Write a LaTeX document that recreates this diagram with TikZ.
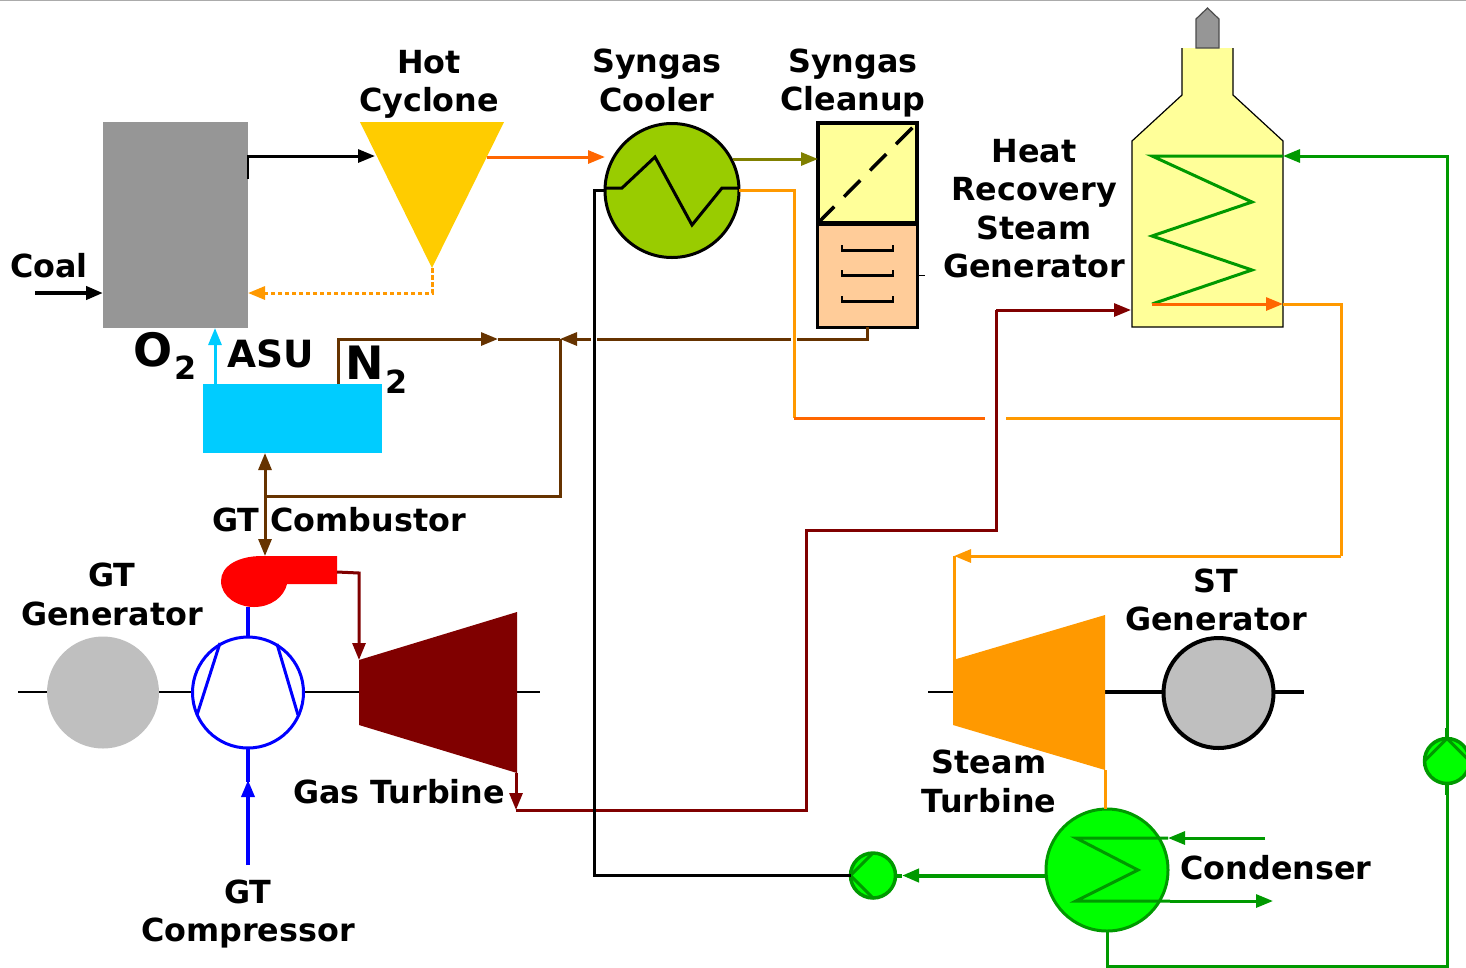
\documentclass[tikz,border=0pt]{standalone}
\usepackage{fontspec}
\setmainfont{DejaVu Sans}
\usetikzlibrary{arrows.meta}
\definecolor{slag}{HTML}{969696}
\definecolor{amber}{HTML}{FF9900}
\definecolor{hotorange}{HTML}{FF6600}
\definecolor{olivegas}{HTML}{808000}
\definecolor{nitrogen}{HTML}{663300}
\definecolor{airblue}{HTML}{00CCFF}
\definecolor{flue}{HTML}{800000}
\definecolor{water}{HTML}{009900}
\definecolor{palegold}{HTML}{FFFF99}
\definecolor{cyclonegold}{HTML}{FFCC00}
\definecolor{coolergreen}{HTML}{99CC00}
\definecolor{scrubpeach}{HTML}{FFCC99}
\tikzset{
	lbl/.style={font=\bfseries\fontsize{31.8}{38.3}\selectfont,align=center,inner sep=0pt},
	flow/.style={line width=3pt,-{Triangle[length=17pt,width=13pt]}},
	pipe/.style={line width=3pt},
	box/.style={inner sep=0pt,outer sep=0pt},
	pump/.style={circle,box,draw=water,fill=green,line width=3.5pt,minimum size=45pt}
}

\begin{document}
\begin{tikzpicture}[x=1pt,y=-1pt]
		%%%%% START %%%%%
		\clip (0,0) rectangle (1466,967);
		\draw[line width=1.5pt, color=black!33] (0,0.5) -- (1466,0.5);
		
		% equipment
		\node[box, fill=slag, minimum width=145pt, minimum height=206pt] (gasifier) at (175.5,225) {};
		\node[box, fill=airblue, minimum width=179pt, minimum height=69pt] (asu) at (292.5,418.5) {};
		\node[circle, box, draw=black, fill=coolergreen, line width=3pt, minimum size=134pt] (cooler) at (672,190.5) {};
		\node[box, draw=black, fill=palegold, line width=4.5pt, minimum width=99pt, minimum height=100pt] (filter) at (867.5,173) {};
		\node[box, draw=black, fill=scrubpeach, line width=3pt, minimum width=100pt, minimum height=103pt] (scrubber) at (867.5,275.5) {};
		\draw[line width=4.5pt] (filter.south west) -- (filter.south east);
		
		\fill[color=cyclonegold] (360,122) -- (504,122) -- (432,268) -- cycle;
		\coordinate (cycin) at (375,156);
		\coordinate (cycout) at (487,157);
		\coordinate (cycdrop) at (432,268);
		
		\draw[fill=palegold, line width=1.2pt] (1182,48) -- (1182,95) -- (1132,141) -- (1132,327) -- (1283,327) -- (1283,141) -- (1233,95) -- (1233,48);
		\draw[fill=slag, line width=1.2pt, draw=black!70] (1196,48) -- (1196,19) -- (1207.5,8) -- (1219,19) -- (1219,48) -- cycle;
		\coordinate (hrsgwater) at (1283,156);
		\coordinate (hrsgsteam) at (1283,304);
		\coordinate (hrsgflue) at (1131,310);
		
		% shafts
		\draw[line width=2.5pt] (18,692) -- (540,692);
		\draw[line width=2.5pt] (928,692) -- (953,692);
		\draw[line width=3.5pt] (1105,692) -- (1162,692);
		\draw[line width=3.5pt] (1275,692) -- (1304,692);
		
		\node[circle, box, fill=black!25, minimum size=112pt] (gtgen) at (103,692.5) {};
		\node[circle, box, draw=blue, fill=white, line width=3pt, minimum size=111pt] (comp) at (248,692.5) {};
		\draw[line width=3pt, color=blue] (220,643) -- (197,715);
		\draw[line width=3pt, color=blue] (277,644) -- (298,715);
		
		\fill[color=red] (337,556) -- (262,556) .. controls (238,556) and (221,566) .. (221,581) .. controls (221,597) and (238,607) .. (254,607) .. controls (271,607) and (284,597) .. (287,584) -- (337,584) -- cycle;
		\coordinate (combtop) at (265,556);
		\coordinate (combout) at (337,572);
		\coordinate (combfoot) at (248,607);
		
		\fill[color=flue] (359,660) -- (517,612) -- (517,773) -- (359,725) -- cycle;
		\coordinate (gtin) at (359,660);
		\coordinate (gtout) at (516,773);
		\fill[color=amber] (953,660) -- (1105,615) -- (1105,770) -- (953,725) -- cycle;
		\coordinate (stin) at (954,660);
		\coordinate (stout) at (1105,770);
		
		\node[circle, box, draw=black, fill=black!25, line width=4pt, minimum size=110pt] (stgen) at (1218.5,693) {};
		\node[circle, box, draw=water, fill=green, line width=3pt, minimum size=122pt] (cond) at (1107,870) {};
		\node[pump] (pumpa) at (873,875.5) {};
		\node[pump] (pumpb) at (1447,761) {};
		
		% coils and inner marks
		\draw[line width=3pt] (cooler.west |- 0,188) -- (622,188) -- (655,157) -- (692,225) -- (722,188) -- (cooler.east |- 0,188);
		\draw[line width=3.5pt, dash pattern=on 23pt off 14pt] (filter.south west) -- (filter.north east);
		\foreach \y in {245,270,296}
			\draw[line width=2.5pt] (842,\y) -- (842,\y+5.5) -- (893,\y+5.5) -- (893,\y);
		\draw[line width=1.5pt] (scrubber.east) -- ++(7,0);
		\draw[line width=3pt, color=water] (hrsgwater) -- (1152,156) -- (1252,202) -- (1152,236) -- (1252,270) -- (1152,304);
		\draw[flow, color=hotorange] (1152,304) -- (hrsgsteam);
		\draw[line width=3pt, color=water] (1168,838) -- (1076,838) -- (1138,870) -- (1076,901) -- (1170,901);
		\draw[line width=3pt, color=water] (pumpa.west) -- (pumpa.north);
		\draw[line width=3pt, color=water] (pumpa.west) -- (pumpa.south);
		\draw[line width=3pt, color=water] (pumpb.north) -- (pumpb.west);
		\draw[line width=3pt, color=water] (pumpb.north) -- (pumpb.east);
		
		% gas side
		\draw[line width=1.5pt] (gasifier.east |- 0,155) -- (gasifier.east |- 0,179);
		\draw[flow] (gasifier.east |- cycin) -- (cycin);
		\draw[flow, color=hotorange] (cycout) -- (cooler.west |- cycout);
		\draw[flow, dash pattern=on 4.5pt off 2.5pt, color=amber] (cycdrop) |- (gasifier.east |- 0,293);
		\draw[flow, line width=4pt] (35,293) -- (gasifier.west |- 0,293);
		\draw[flow, color=olivegas] (733,159) -- (filter.west |- 0,159);
		\draw[flow, color=airblue] (215,384) -- (215,328);
		
		% nitrogen
		\coordinate (njoin) at (560,339);
		\coordinate (nfeed) at (265,496);
		\draw[flow, color=nitrogen] (338,384) |- (498,339);
		\draw[pipe, color=nitrogen] (498,339) -- (njoin);
		\draw[pipe, color=nitrogen] (scrubber.south) |- (797,339);
		\draw[pipe, color=nitrogen] (791,339) -- (597,339);
		\draw[flow, color=nitrogen] (591,339) -- (njoin);
		\draw[pipe, color=nitrogen] (njoin) |- (nfeed);
		\draw[flow, color=nitrogen] (nfeed) -- (asu.south -| nfeed);
		\draw[flow, color=nitrogen] (nfeed) -- (combtop);
		
		% air and flue gas
		\draw[line width=3.5pt, color=blue] (combfoot) -- (comp.north);
		\draw[flow, line width=3.5pt, color=blue] (248,865) -- (248,780);
		\draw[line width=3.5pt, color=blue] (comp.south) -- (248,782);
		\draw[flow, color=flue] (combout) -- (359,573) -- (gtin);
		\draw[flow, color=flue] (gtout) -- (516,810);
		\draw[pipe, color=flue] (516,810) -| (806,530) -- (996,530) -- (996,310);
		\draw[flow, color=flue] (996,310) -- (hrsgflue);
		
		% water and steam
		\draw[pipe] (cooler.west |- 0,190) -- (594,190) |- (pumpa.west);
		\draw[pipe, color=amber] (cooler.east |- 0,190) -- (794,190) -- (794,418);
		\draw[pipe, color=hotorange] (794,418) -- (985,418);
		\draw[pipe, color=amber] (1006,418) -- (1341,418);
		\draw[pipe, color=amber] (hrsgsteam) -- (1341,304) -- (1341,556);
		\draw[flow, color=amber] (1341,556) -- (954,556);
		\draw[pipe, color=amber] (954,556) -- (stin);
		\draw[pipe, color=amber] (stout) -- (cond.north -| stout);
		\draw[flow, line width=4pt, color=water] (cond.west |- pumpa) -- (902,875.5);
		\draw[line width=4pt, color=water] (pumpa.east) -- (902,875.5);
		\draw[flow, color=water] (1265,838) -- (1168,838);
		\draw[flow, color=water] (1170,901) -- (1273,901);
		\draw[line width=3pt, color=water] (cond.south) -- (1107,966) -| (pumpb.south);
		\draw[line width=3pt, color=water] (pumpb.north) |- (1400,156);
		\draw[flow, color=water] (1400,156) -- (hrsgwater);
		\draw[line width=4.5pt, color=water] (pumpb.north) -- ++(0,-11);
		\draw[line width=4.5pt, color=water] (pumpb.south) -- ++(0,11);
		
		% labels
		\node[lbl] (hotcyc) at (429,84) {Hot\\Cyclone};
		\node[lbl] (synco) at (657,80.5) {Syngas\\Cooler};
		\node[lbl] (syncl) at (853,83) {Syngas\\Cleanup};
		\node[lbl] (hrsglbl) at (1034,208.5) {Heat\\Recovery\\Steam\\Generator};
		\node[lbl] (coal) at (49,265.5) {Coal};
		\node[lbl, font=\bfseries\fontsize{46}{46}\selectfont] (oxy) at (153,350) {O};
		\node[lbl] (oxysub) at (186,368) {2};
		\node[lbl, font=\bfseries\fontsize{37.5}{38}\selectfont] (asulbl) at (271,354) {ASU};
		\node[lbl, font=\bfseries\fontsize{46}{46}\selectfont] (nit) at (365,363) {N};
		\node[lbl] (nitsub) at (397,382) {2};
		\node[lbl] (comblbl) at (339,520) {GT Combustor};
		\node[lbl] (gtgenlbl) at (112,594.5) {GT\\Generator};
		\node[lbl] (gtlbl) at (399,792) {Gas Turbine};
		\node[lbl] (complbl) at (248,914) {GT\\Compressor};
		\node[lbl] (stgenlbl) at (1216,600) {ST\\Generator};
		\node[lbl] (stlbl) at (989,781.5) {Steam\\Turbine};
		\node[lbl] (condlbl) at (1276,868) {Condenser};
		
		%%%%% END %%%%%
	\end{tikzpicture}
\end{document}
